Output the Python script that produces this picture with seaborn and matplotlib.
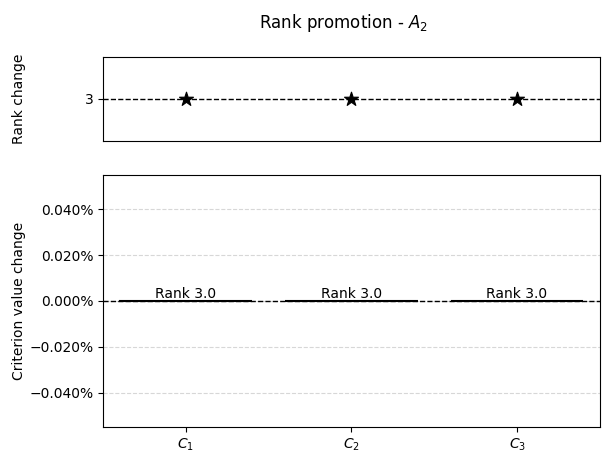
import numpy as np
import pandas as pd
from matplotlib import pyplot as plt
from matplotlib.ticker import FuncFormatter
import seaborn as sns

criteria = ["$C_1$", "$C_2$", "$C_3$"]
rank_change = [3, 3, 3]
value_change = [0.0, 0.0, 0.0]
bar_labels = ["Rank 3.0", "Rank 3.0", "Rank 3.0"]

df = pd.DataFrame({"criterion": criteria, "rank": rank_change, "change": value_change})

fig = plt.figure(figsize=(6.09, 4.63), dpi=100)
ax_top = fig.add_axes([0.169, 0.6955, 0.816, 0.1815])
ax_bot = fig.add_axes([0.169, 0.0778, 0.816, 0.5442], sharex=ax_top)

# top: rank change
sns.scatterplot(data=df, x="criterion", y="rank", marker="*", s=110, color="black",
                edgecolor="black", ax=ax_top, zorder=3)
ax_top.axhline(rank_change[0], color="black", linestyle="--", linewidth=1)
ax_top.set_yticks([3])
ax_top.set_ylim(2.835, 3.165)
ax_top.set_xlabel("")
ax_top.set_ylabel("Rank change")
ax_top.tick_params(axis="x", bottom=False, labelbottom=False)

# bottom: criterion value change
sns.barplot(data=df, x="criterion", y="change", color="white", edgecolor="black",
            linewidth=1.5, ax=ax_bot, zorder=2)
ax_bot.axhline(0, color="black", linestyle="--", linewidth=1, zorder=1)
for i, lab in enumerate(bar_labels):
    ax_bot.text(i, value_change[i], lab, ha="center", va="bottom", fontsize=10)
ax_bot.set_ylim(-0.055, 0.055)
ax_bot.set_yticks([-0.04, -0.02, 0.0, 0.02, 0.04])
ax_bot.yaxis.set_major_formatter(FuncFormatter(lambda v, p: f"{v:.3f}%".replace("-", "\u2212")))
ax_bot.grid(axis="y", linestyle="--", alpha=0.5, zorder=0)
ax_bot.set_axisbelow(True)
ax_bot.set_xlim(-0.5, 2.5)
ax_bot.set_xlabel("")
ax_bot.set_ylabel("Criterion value change")

# align both y labels at the same x
ax_top.yaxis.set_label_coords(-0.155, 0.5)
ax_bot.yaxis.set_label_coords(-0.155, 0.5)
fig.suptitle("Rank promotion - $A_2$", x=0.564, y=0.975, fontsize=12)

plt.savefig("out.png", dpi=100)
plt.close()
